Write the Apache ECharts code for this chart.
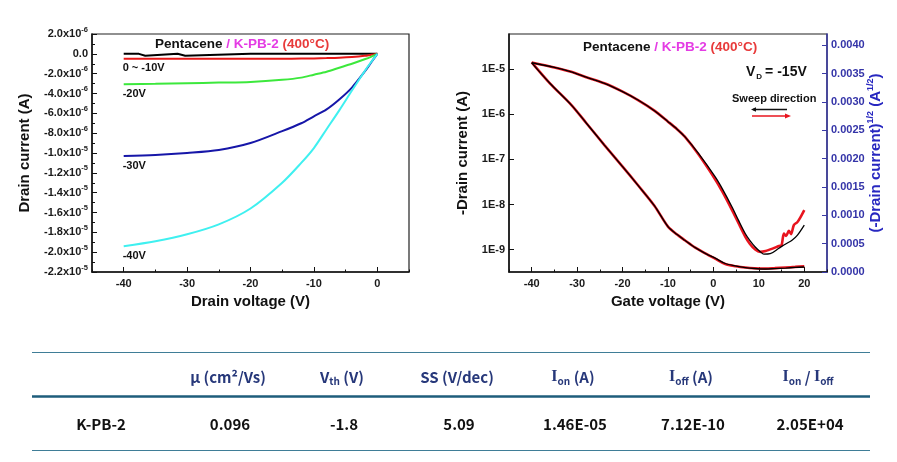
<!DOCTYPE html>
<html><head><meta charset="utf-8">
<script src="https://cdn.jsdelivr.net/npm/echarts@6/dist/echarts.min.js"></script>
<style>html,body{margin:0;padding:0;background:#fff}#c{width:897px;height:462px}</style>
</head><body><div id="c"></div>
<script>
// ---------- Left panel: output characteristics ----------
const vdLeft = [-40,-35,-30,-25,-20,-15,-12,-10,-8,-6,-4,-2,-1,0];
const vdBlack = [-40,-37.6,-37.4,-36.6,-36.4,-31.5,-31.2,-30.3,-30,-20,-10,0];
const idBlack = [0,0,-2e-7,-2e-7,0,0,-2e-7,-2e-7,0,0,0,0];
const idRed = [-5e-7,-5e-7,-5e-7,-5e-7,-5e-7,-5e-7,-4.8e-7,-4.6e-7,-4.3e-7,-3.9e-7,-3.2e-7,-2e-7,-1e-7,0];
const idGreen = [-3.07e-6,-3.02e-6,-2.96e-6,-2.9e-6,-2.83e-6,-2.62e-6,-2.4e-6,-2.1e-6,-1.8e-6,-1.4e-6,-1.0e-6,-0.55e-6,-0.3e-6,0];
const idBlue = [-1.03e-5,-1.02e-5,-1.0e-5,-9.7e-6,-9.0e-6,-7.8e-6,-7.0e-6,-6.3e-6,-5.6e-6,-4.6e-6,-3.4e-6,-1.8e-6,-0.9e-6,0];
const idCyan = [-1.94e-5,-1.89e-5,-1.82e-5,-1.72e-5,-1.56e-5,-1.3e-5,-1.1e-5,-9.5e-6,-7.6e-6,-5.7e-6,-3.7e-6,-1.75e-6,-0.85e-6,0];
const curveLabels = ['0 ~ -10V','-20V','-30V','-40V'];
const xTicksLeft = [-40,-30,-20,-10,0];

// ---------- Right panel: transfer characteristics ----------
const vgLogBlack = [-40,-35,-31.3,-28,-24,-20,-16.6,-13,-10,-8,-6.3,-3.3,0.4,2,4.1,5.5,7,8,9.2,10.3,11.1,12.5,14.4,16,17.3,18.5,20];
const idLogBlack = [1.4e-5,1.1e-5,8.8e-6,6.7e-6,4.9e-6,3.2e-6,2.08e-6,1.21e-6,6.9e-7,4.7e-7,3.2e-7,1.36e-7,4.1e-8,2.2e-8,8.8e-9,4.5e-9,2.27e-9,1.6e-9,1.14e-9,9.0e-10,7.9e-10,8.1e-10,1.07e-9,1.35e-9,1.61e-9,2.1e-9,3.5e-9];
const vgLogRed = [-40,-35,-31.3,-28,-24,-20,-16.6,-13,-10,-8,-6.3,-3.3,0.4,2,4.1,5.5,7,8,9.2,10.3,11.5,13,14.4,15,15.5,16,16.6,17.1,17.7,18.5,19.2,20];
const idLogRed = [1.42e-5,1.1e-5,8.8e-6,6.7e-6,4.9e-6,3.2e-6,2.08e-6,1.21e-6,6.9e-7,4.7e-7,3.2e-7,1.3e-7,3.6e-8,1.9e-8,7.5e-9,3.9e-9,1.95e-9,1.35e-9,1.0e-9,8.9e-10,9.3e-10,1.05e-9,1.2e-9,1.25e-9,2.27e-9,2.0e-9,2.6e-9,2.2e-9,3.5e-9,4.1e-9,5.3e-9,7.5e-9];
const vgSqrt = [-40,-36,-31.3,-28,-24,-20,-16.6,-13,-10,-8,-6.3,-4,-1.8,0.5,2.6,5,7,9,11.4,13.5,15.9,18,20];
const sqrtBlack = [0.00369,0.00333,0.00295,0.00263,0.00224,0.00186,0.00153,0.00117,0.00080,0.00066,0.00056,0.00043,0.00033,0.00024,0.00015,0.000105,0.000078,0.000062,0.000053,0.00006,0.00007,0.00008,0.000088];
const sqrtRed = [0.00370,0.00333,0.00295,0.00263,0.00224,0.00186,0.00153,0.00117,0.00080,0.00066,0.00056,0.00043,0.00033,0.00023,0.00014,0.0001,0.000078,0.000065,0.00006,0.000068,0.00008,0.00009,0.0001];
const xTicksRight = [-40,-30,-20,-10,0,10,20];
const logTicks = [1e-9,1e-8,1e-7,1e-6,1e-5];
const sqrtTicks = [0,0.0005,0.001,0.0015,0.002,0.0025,0.003,0.0035,0.004];

// ---------- Table ----------
const tableHeaders = ['μ (cm²/Vs)','V|th| (V)','SS (V/dec)','I|on| (A)','I|off| (A)','I|on| / I|off|'];
const tableRowName = 'K-PB-2';
const tableRow = ['0.096','-1.8','5.09','1.46E-05','7.12E-10','2.05E+04'];

const zip = (xs, ys) => xs.map((x, i) => [x, ys[i]]);
const F = '"Liberation Sans", Arial, sans-serif';
const TF = '"Noto Sans CJK KR", "Noto Sans", sans-serif';

function sciLabel(v) {
  if (Math.abs(v) < 1e-12) return '{m|0.0}';
  const e = Math.floor(Math.log10(Math.abs(v)) + 1e-9);
  const m = v / Math.pow(10, e);
  return '{m|' + m.toFixed(1) + 'x10}{s|' + e + '}';
}

const tickLabelStyle = {fontFamily: F, fontWeight: 'bold', fontSize: 11, color: '#1a1a1a'};
const nameStyle = {fontFamily: F, fontWeight: 'bold', fontSize: 15, color: '#111'};

function mainX(grid, min, max, ticks, name) {
  return {
    type: 'value', gridIndex: grid, min: min, max: max, position: 'bottom',
    name: name, nameLocation: 'middle', nameGap: 17, nameTextStyle: nameStyle,
    axisLine: {show: true, onZero: false, lineStyle: {color: '#111', width: 1.5}},
    axisTick: {show: true, inside: true, length: 5, customValues: ticks, lineStyle: {color: '#111'}},
    axisLabel: Object.assign({customValues: ticks, margin: 6}, tickLabelStyle),
    splitLine: {show: false}
  };
}
function minorX(grid, min, max) {
  return {
    type: 'value', gridIndex: grid, min: min, max: max, interval: 5, position: 'bottom',
    axisLine: {show: false, onZero: false}, axisLabel: {show: false}, splitLine: {show: false},
    axisTick: {show: true, inside: true, length: 2.5, lineStyle: {color: '#111'}}
  };
}

const lineBase = {type: 'line', symbol: 'none', showSymbol: false, animation: false};

const option = {
  animation: false,
  backgroundColor: '#fff',
  grid: [
    {left: 92, top: 34, width: 317, height: 238, show: true, borderColor: '#222', borderWidth: 1.2},
    {left: 509, top: 34, width: 318, height: 238, show: true, borderColor: '#222', borderWidth: 1.2}
  ],
  xAxis: [
    mainX(0, -45, 5, xTicksLeft, 'Drain voltage (V)'),
    minorX(0, -45, 5),
    mainX(1, -45, 25, xTicksRight, 'Gate voltage (V)'),
    minorX(1, -45, 25)
  ],
  yAxis: [
    {
      type: 'value', gridIndex: 0, min: -2.2e-5, max: 2e-6, interval: 2e-6, position: 'left',
      name: 'Drain current (A)', nameLocation: 'middle', nameGap: 60, nameTextStyle: nameStyle,
      axisLine: {show: true, onZero: false, lineStyle: {color: '#111', width: 1.5}},
      axisTick: {show: true, inside: true, length: 5, lineStyle: {color: '#111'}},
      minorTick: {show: true, splitNumber: 2, length: 3, lineStyle: {color: '#111'}},
      axisLabel: {
        margin: 4, formatter: sciLabel,
        rich: {
          m: {fontFamily: F, fontWeight: 'bold', fontSize: 11, color: '#1a1a1a'},
          s: {fontFamily: F, fontWeight: 'bold', fontSize: 7.5, color: '#1a1a1a', padding: [0, 0, 9, 0]}
        }
      },
      splitLine: {show: false}
    },
    {
      type: 'log', gridIndex: 1, min: 3.18e-10, max: 6.08e-5, position: 'left',
      name: '-Drain current (A)', nameLocation: 'middle', nameGap: 39, nameTextStyle: nameStyle,
      axisLine: {show: true, onZero: false, lineStyle: {color: '#111', width: 1.5}},
      axisTick: {show: true, inside: true, length: 5, customValues: logTicks, lineStyle: {color: '#111'}},
      axisLabel: Object.assign({customValues: logTicks, margin: 4,
        formatter: v => '1E' + Math.round(Math.log10(v))}, tickLabelStyle),
      splitLine: {show: false}
    },
    {
      type: 'value', gridIndex: 1, min: 0, max: 0.0042, position: 'right',
      axisLine: {show: true, onZero: false, lineStyle: {color: '#3a3aa6', width: 1.5}},
      axisTick: {show: true, inside: true, length: 5, customValues: sqrtTicks, lineStyle: {color: '#3a3aa6'}},
      axisLabel: {customValues: sqrtTicks, margin: 4, fontFamily: F, fontWeight: 'bold', fontSize: 11, color: '#3434a8',
        formatter: v => v.toFixed(4)},
      splitLine: {show: false}
    }
  ],
  series: [
    Object.assign({}, lineBase, {name: '0V', xAxisIndex: 0, yAxisIndex: 0, data: zip(vdBlack, idBlack), lineStyle: {color: '#000', width: 2}}),
    Object.assign({}, lineBase, {name: '-10V', xAxisIndex: 0, yAxisIndex: 0, smooth: 0.3, data: zip(vdLeft, idRed), lineStyle: {color: '#e81818', width: 2}}),
    Object.assign({}, lineBase, {name: '-20V', xAxisIndex: 0, yAxisIndex: 0, smooth: 0.3, data: zip(vdLeft, idGreen), lineStyle: {color: '#3ce83c', width: 2}}),
    Object.assign({}, lineBase, {name: '-30V', xAxisIndex: 0, yAxisIndex: 0, smooth: 0.3, data: zip(vdLeft, idBlue), lineStyle: {color: '#1616a8', width: 2}}),
    Object.assign({}, lineBase, {name: '-40V', xAxisIndex: 0, yAxisIndex: 0, smooth: 0.3, data: zip(vdLeft, idCyan), lineStyle: {color: '#3ff0f0', width: 2}}),
    Object.assign({}, lineBase, {name: 'red log', xAxisIndex: 2, yAxisIndex: 1, smooth: 0.25, data: zip(vgLogRed, idLogRed), lineStyle: {color: '#e8141e', width: 2.6}}),
    Object.assign({}, lineBase, {name: 'red sqrt', xAxisIndex: 2, yAxisIndex: 2, smooth: 0.3, data: zip(vgSqrt, sqrtRed), lineStyle: {color: '#e8141e', width: 2.6}}),
    Object.assign({}, lineBase, {name: 'black log', xAxisIndex: 2, yAxisIndex: 1, smooth: 0.3, data: zip(vgLogBlack, idLogBlack), lineStyle: {color: '#000', width: 1.3}}),
    Object.assign({}, lineBase, {name: 'black sqrt', xAxisIndex: 2, yAxisIndex: 2, smooth: 0.3, data: zip(vgSqrt, sqrtBlack), lineStyle: {color: '#000', width: 1.3}})
  ]
};

const chart = echarts.init(document.getElementById('c'), null, {renderer: 'canvas'});
chart.setOption(option);

// ---------- graphics (titles, annotations, table) ----------
const titleRich = {
  k: {fontFamily: F, fontWeight: 'bold', fontSize: 13.5, fill: '#111'},
  m: {fontFamily: F, fontWeight: 'bold', fontSize: 13.5, fill: '#e43ce4'},
  r: {fontFamily: F, fontWeight: 'bold', fontSize: 13.5, fill: '#e83a3a'}
};
const titleText = '{k|Pentacene }{m|/ K-PB-2 }{r|(400°C)}';
const graphics = [];
graphics.push({type: 'text', x: 155, y: 44, style: {text: titleText, rich: titleRich, verticalAlign: 'middle'}});
graphics.push({type: 'text', x: 583, y: 47, style: {text: titleText, rich: titleRich, verticalAlign: 'middle'}});

// right-axis title (rotated, reads bottom to top)
const blueT = '#2727c0';
graphics.push({type: 'text', x: 876, y: 153, rotation: Math.PI / 2, style: {
  text: '{n|(-Drain current)}{s|1/2}{n| (A}{s|1/2}{n|)}', align: 'center', verticalAlign: 'middle',
  rich: {n: {fontFamily: F, fontWeight: 'bold', fontSize: 15, fill: blueT},
         s: {fontFamily: F, fontWeight: 'bold', fontSize: 9, fill: blueT, padding: [0, 0, 10, 0]}}}});

// curve labels placed under each curve start via the axis scales
const starts = [idRed[0], idGreen[0], idBlue[0], idCyan[0]];
curveLabels.forEach((t, i) => {
  const p = chart.convertToPixel({xAxisIndex: 0, yAxisIndex: 0}, [vdLeft[0], starts[i]]);
  graphics.push({type: 'text', x: p[0] - 1, y: p[1] + 9.5,
    style: {text: t, font: 'bold 11px ' + F, fill: '#111', verticalAlign: 'middle'}});
});

// V_D label and sweep direction
graphics.push({type: 'text', x: 746, y: 72, style: {
  text: '{b|V}{d|D}{b|= -15V}', verticalAlign: 'middle',
  rich: {b: {fontFamily: F, fontWeight: 'bold', fontSize: 14, fill: '#111'},
         d: {fontFamily: F, fontWeight: 'bold', fontSize: 8, fill: '#111', padding: [10, 3, 0, 1]}}}});
graphics.push({type: 'text', x: 732, y: 99, style: {text: 'Sweep direction', font: 'bold 11px ' + F, fill: '#111', verticalAlign: 'middle'}});
graphics.push({type: 'line', shape: {x1: 753, y1: 109.5, x2: 787, y2: 109.5}, style: {stroke: '#111', lineWidth: 1.3}});
graphics.push({type: 'polygon', shape: {points: [[751, 109.5], [756, 107.3], [756, 111.7]]}, style: {fill: '#111'}});
graphics.push({type: 'line', shape: {x1: 752, y1: 116, x2: 787, y2: 116}, style: {stroke: '#e8141e', lineWidth: 1.3}});
graphics.push({type: 'polygon', shape: {points: [[791, 116], [785, 113.5], [785, 118.5]]}, style: {fill: '#e8141e'}});

// table
const lineC = '#3f7d97';
graphics.push({type: 'line', shape: {x1: 32, y1: 352.5, x2: 870, y2: 352.5}, style: {stroke: lineC, lineWidth: 1.2}});
graphics.push({type: 'line', shape: {x1: 32, y1: 396.5, x2: 870, y2: 396.5}, style: {stroke: '#1e5d7b', lineWidth: 2.6}});
graphics.push({type: 'line', shape: {x1: 32, y1: 450.5, x2: 870, y2: 450.5}, style: {stroke: lineC, lineWidth: 1.2}});
const colX = [228, 342, 457, 573, 691, 808];
const hColor = '#27387a';
const hRich = {
  n: {fontFamily: TF, fontWeight: 'bold', fontSize: 15, fill: hColor},
  i: {fontFamily: '"Liberation Serif", serif', fontWeight: 'bold', fontSize: 16, fill: hColor},
  s: {fontFamily: TF, fontWeight: 'bold', fontSize: 10, fill: hColor, padding: [9, 0, 0, 0]}
};
function headerRich(h) {
  const parts = h.split('|');
  let out = '';
  parts.forEach((p, k) => {
    if (!p) return;
    if (k % 2 === 1) { out += '{s|' + p + '}'; return; }
    const next = parts[k + 1];
    if (next !== undefined && p.endsWith('I')) {
      const pre = p.slice(0, -1);
      if (pre) out += '{n|' + pre + '}';
      out += '{i|I}';
    } else {
      out += '{n|' + p + '}';
    }
  });
  return out;
}
tableHeaders.forEach((h, k) => {
  graphics.push({type: 'text', x: colX[k], y: 377, style: {text: headerRich(h), rich: hRich, align: 'center', verticalAlign: 'middle'}});
});
graphics.push({type: 'text', x: 101, y: 424, style: {text: tableRowName, font: 'bold 15px ' + TF, fill: '#111', align: 'center', verticalAlign: 'middle'}});
tableRow.forEach((v, k) => {
  graphics.push({type: 'text', x: colX[k] + 2, y: 424, style: {text: v, font: 'bold 15px ' + TF, fill: '#111', align: 'center', verticalAlign: 'middle'}});
});

chart.setOption({graphic: graphics});
</script>
</body></html>
